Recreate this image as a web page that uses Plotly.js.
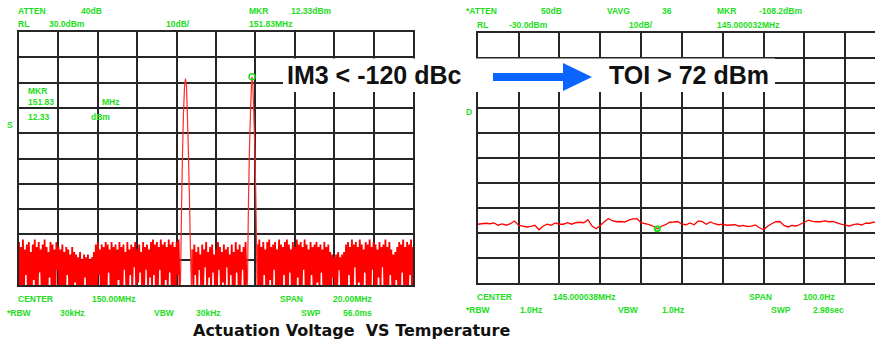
<!DOCTYPE html>
<html>
<head>
<meta charset="utf-8">
<script src="https://cdn.plot.ly/plotly-3.0.1.min.js"></script>
<style>
  html, body { margin: 0; padding: 0; background: #ffffff; }
  #chart { width: 875px; height: 343px; }
</style>
</head>
<body>
<div id="chart"></div>
<script>
// ---- Two-tone test (left screen): 150 MHz centre, 20 MHz span, RL 30 dBm, 10 dB/div ----
const twoToneStep = 0.05;                       // MHz between displayed noise samples
const twoToneSegStarts = [140.00, 148.80, 152.10]; // first frequency of each noise run (MHz)

// noise floor, samples alternate peak / trough (dBm)
const twoToneNoiseA = [
  -53,-72, -55,-70, -52,-72, -56,-66, -54,-72, -53,-71, -57,-72, -54,-68, -52,-72, -55,-72,
  -53,-65, -56,-72, -54,-70, -52,-72, -55,-72, -57,-67, -53,-72, -54,-72, -56,-71, -53,-64,
  -55,-72, -56,-70, -54,-72, -57,-72, -55,-66, -56,-72, -58,-71, -55,-72, -57,-69,
  -58,-72, -59,-72, -57,-70, -60,-72, -58,-67, -59,-72, -58,-72, -60,-71, -59,-72, -57,-70,
  -54,-72, -53,-66, -56,-72, -54,-72, -55,-70, -53,-72, -54,-65, -56,-72, -53,-72, -55,-71, -54,-72, -56,-68, -53,-72,
  -55,-72, -54,-64, -57,-72, -53,-70, -56,-66, -54,-72, -55,-63, -53,-72, -56,-69, -54,-65, -57,-72, -53,-72, -55,-64, -54,-72, -56,-67,
  -53,-72, -52,-66, -54,-72, -53,-70, -55,-64, -52,-72, -54,-72, -53,-68, -55,-72, -52,-65, -54,-72, -53,-71, -55,-72, -53,-66, -52,-72
];
const twoToneNoiseB = [
  -56,-72, -54,-66, -57,-72, -55,-64, -58,-72, -54,-70, -56,-63, -53,-72, -57,-67, -55,-72, -54,-65, -58,-72, -56,-72, -53,-64,
  -55,-72, -57,-69, -54,-72, -56,-63, -55,-72, -58,-66, -54,-72, -57,-72, -53,-65, -56,-72, -54,-70, -57,-64, -55,-72, -53,-72
];
const twoToneNoiseC = [
  -54,-72, -52,-70, -55,-72, -53,-66, -56,-72, -53,-72, -52,-68, -55,-72, -54,-64, -53,-72,
  -56,-72, -52,-70, -54,-72, -55,-66, -53,-72, -52,-72, -54,-65, -56,-72, -53,-71, -55,-72,
  -52,-67, -54,-72, -53,-72, -55,-64, -52,-72, -54,-70, -56,-72, -53,-66, -55,-72, -54,-72,
  -53,-69, -55,-72, -54,-65, -56,-72, -53,-72, -55,-70, -54,-72,
  -57,-72, -58,-67, -59,-72, -58,-72, -57,-64, -59,-72, -58,-70, -57,-72,
  -54,-72, -53,-66, -55,-72, -52,-72, -54,-63, -53,-72, -55,-69, -52,-72, -54,-72, -56,-65, -53,-72, -54,-70,
  -52,-72, -55,-64, -53,-72, -54,-72, -56,-67, -53,-72, -55,-63, -54,-72, -52,-70, -55,-72, -53,-66, -56,-72,
  -58,-72, -57,-68, -55,-72, -53,-72, -54,-65, -52,-72, -55,-70, -53,-72, -54,-66, -52,-72, -55,-72
];

// the two carriers
const toneLowFreq  = [148.15, 148.20, 148.25, 148.30, 148.35, 148.40, 148.45, 148.50, 148.55, 148.60, 148.65, 148.70, 148.75, 148.80];
const toneLowDbm   = [-72, -68, -40, -18, -2, 8, 11.6, 9, -3, -18, -35, -55, -70, -56];
const toneHighFreq = [151.55, 151.60, 151.65, 151.70, 151.75, 151.80, 151.83, 151.87, 151.92, 151.97, 152.02, 152.06, 152.08, 152.10];
const toneHighDbm  = [-72, -68, -36, -16, -2, 9, 12.33, 9, -2, -16, -34, -55, -70, -54];

const twoToneMarkerFreq = 151.83;   // MHz
const twoToneMarkerDbm  = 12.33;    // dBm

// ---- IM3 zoom (right screen): offset from 145 MHz in Hz, RL -30 dBm, 10 dB/div ----
const im3OffsetHz = [];
for (let f = -12; f <= 88; f++) im3OffsetHz.push(f);
const im3Dbm = [
  -106.4, -106.2, -106.0, -106.2, -105.9, -106.8, -106.3, -106.8, -106.2, -105.1,
  -106.8, -107.2, -107.5, -107.3, -106.8, -108.6, -107.2, -106.4, -106.8, -105.9,
  -106.4, -106.4, -105.8, -106.4, -105.8, -105.6, -105.8, -104.6, -107.1, -108.2,
  -106.9, -105.4, -104.2, -105.0, -105.4, -105.3, -105.5, -104.8, -104.3, -104.2,
  -105.8, -106.2, -106.6, -107.2, -108.2, -107.2, -106.6, -105.6, -105.5, -105.3,
  -106.4, -106.6, -105.9, -106.6, -105.1, -105.4, -106.4, -105.5, -106.2, -106.6,
  -106.4, -106.8, -106.7, -106.6, -107.2, -106.9, -107.3, -107.2, -106.7, -107.8,
  -108.6, -107.2, -106.2, -105.4, -105.3, -106.9, -107.5, -106.9, -107.1, -106.4,
  -105.6, -104.8, -105.3, -105.4, -105.4, -105.1, -105.4, -105.3, -105.9, -106.4,
  -106.8, -107.1, -106.6, -106.3, -106.7, -106.0, -106.0, -105.6, -105.8, -106.0,
  -106.2
];
const im3MarkerHz  = 32;      // 145.000032 MHz
const im3MarkerDbm = -108.2;  // dBm

// ---- page geometry helpers (pixel -> paper fraction) ----
const W = 875, H = 343;
const px = x => x / W;
const py = y => 1 - y / H;

const FONT = 'Liberation Sans, Arial, sans-serif';
const GREEN = '#22dd22';
const GRID = '#262626';
const RED = '#ff0000';

// noise runs are drawn heavy, the carrier skirts with a finer pen
function noiseTrace(start, vals) {
  return {
    x: vals.map((v, i) => start + i * twoToneStep), y: vals,
    xaxis: 'x', yaxis: 'y', type: 'scatter', mode: 'lines',
    line: { color: RED, width: 1.8, simplify: false }, hoverinfo: 'skip'
  };
}
function toneTrace(freqs, levels) {
  return {
    x: freqs, y: levels,
    xaxis: 'x', yaxis: 'y', type: 'scatter', mode: 'lines',
    line: { color: '#ff2a2a', width: 1.2, simplify: false }, hoverinfo: 'skip'
  };
}

const traces = [
  noiseTrace(twoToneSegStarts[0], twoToneNoiseA),
  noiseTrace(twoToneSegStarts[1], twoToneNoiseB),
  noiseTrace(twoToneSegStarts[2], twoToneNoiseC),
  toneTrace(toneLowFreq, toneLowDbm),
  toneTrace(toneHighFreq, toneHighDbm),
  {
    x: [twoToneMarkerFreq], y: [twoToneMarkerDbm],
    xaxis: 'x', yaxis: 'y', type: 'scatter', mode: 'markers',
    marker: { symbol: 'circle-open', size: 6, color: GREEN, line: { width: 1.5, color: GREEN } },
    hoverinfo: 'skip'
  },
  {
    x: im3OffsetHz, y: im3Dbm,
    xaxis: 'x2', yaxis: 'y2', type: 'scatter', mode: 'lines',
    line: { color: RED, width: 1.3, simplify: false }, hoverinfo: 'skip'
  },
  {
    x: [im3MarkerHz], y: [im3MarkerDbm],
    xaxis: 'x2', yaxis: 'y2', type: 'scatter', mode: 'markers',
    marker: { symbol: 'circle-open', size: 5, color: GREEN, line: { width: 2, color: GREEN } },
    hoverinfo: 'skip'
  }
];

function screenAxis(extra) {
  return Object.assign({
    showgrid: true, gridcolor: GRID, gridwidth: 2,
    showline: true, linecolor: GRID, linewidth: 2, mirror: true,
    showticklabels: false, ticks: '', zeroline: false, fixedrange: true
  }, extra);
}

// instrument read-outs: [text, x px, y px]
const readouts = [
  ['ATTEN', 17, 11], ['40dB', 80, 11], ['MKR', 248, 11], ['12.33dBm', 290, 11],
  ['RL', 17, 24], ['30.0dBm', 48, 24], ['10dB/', 165, 24], ['151.83MHz', 248, 24],
  ['MKR', 27, 91], ['151.83', 27, 102], ['MHz', 101, 102], ['12.33', 27, 117], ['dBm', 90, 117],
  ['S', 6, 125],
  ['CENTER', 17, 299], ['150.00MHz', 91, 299], ['SPAN', 279, 299], ['20.00MHz', 332, 299],
  ['*RBW', 6, 313], ['30kHz', 59, 313], ['VBW', 153, 313], ['30kHz', 195, 313],
  ['SWP', 300, 313], ['56.0ms', 342, 313],
  ['*ATTEN', 465, 11], ['50dB', 540, 11], ['VAVG', 606, 11], ['36', 661, 11],
  ['MKR', 716, 11], ['-108.2dBm', 758, 11],
  ['RL', 476, 25], ['-30.0dBm', 508, 25], ['10dB/', 628, 25], ['145.000032MHz', 716, 25],
  ['D', 465, 112],
  ['CENTER', 476, 297], ['145.000038MHz', 552, 297], ['SPAN', 748, 297], ['100.0Hz', 802, 297],
  ['*RBW', 465, 310], ['1.0Hz', 519, 310], ['VBW', 617, 310], ['1.0Hz', 661, 310],
  ['SWP', 770, 310], ['2.98sec', 812, 310]
];

const annotations = readouts.map(r => ({
  text: r[0], x: px(r[1]), y: py(r[2]), xref: 'paper', yref: 'paper',
  xanchor: 'left', yanchor: 'middle', showarrow: false, borderpad: 0,
  font: { family: FONT, size: 8.5, color: GREEN, weight: 'bold' }
}));

annotations.push(
  { text: 'IM3 &lt; -120 dBc', x: px(286), y: py(75), xref: 'paper', yref: 'paper',
    xanchor: 'left', yanchor: 'middle', showarrow: false, borderpad: 0,
    font: { family: FONT, size: 25, color: '#111111', weight: 'bold' } },
  { text: 'TOI &gt; 72 dBm', x: px(608), y: py(75), xref: 'paper', yref: 'paper',
    xanchor: 'left', yanchor: 'middle', showarrow: false, borderpad: 0,
    font: { family: FONT, size: 25, color: '#111111', weight: 'bold' } },
  { text: 'Actuation Voltage\u00a0 VS Temperature', x: px(192), y: py(330), xref: 'paper', yref: 'paper',
    xanchor: 'left', yanchor: 'middle', showarrow: false, borderpad: 0,
    font: { family: 'DejaVu Sans, Verdana, sans-serif', size: 16, color: '#111111', weight: 'bold' } }
);

// white caption band and the blue arrow between the two screens
const arrowPath = 'M ' + px(493) + ',' + py(73) +
  ' L ' + px(563) + ',' + py(73) +
  ' L ' + px(563) + ',' + py(63) +
  ' L ' + px(592) + ',' + py(77) +
  ' L ' + px(563) + ',' + py(91) +
  ' L ' + px(563) + ',' + py(81) +
  ' L ' + px(493) + ',' + py(81) + ' Z';

const shapes = [
  { type: 'rect', xref: 'paper', yref: 'paper', layer: 'above',
    x0: px(283), x1: px(775), y0: py(92), y1: py(58.5),
    fillcolor: '#ffffff', line: { width: 0 } },
  { type: 'path', xref: 'paper', yref: 'paper', layer: 'above', path: arrowPath,
    fillcolor: '#0a64ff', line: { width: 0 } }
];

const layout = {
  width: W, height: H,
  margin: { l: 0, r: 0, t: 0, b: 0, pad: 0 },
  paper_bgcolor: '#ffffff', plot_bgcolor: '#ffffff',
  showlegend: false,
  xaxis: screenAxis({ domain: [px(19), px(413)], range: [140, 160], tick0: 140, dtick: 2, anchor: 'y' }),
  yaxis: screenAxis({ domain: [py(285), py(32)], range: [-70, 30], tick0: -70, dtick: 10, anchor: 'x' }),
  xaxis2: screenAxis({ domain: [px(477.7), 1], range: [-12, 85.3], tick0: -12, dtick: 10, anchor: 'y2' }),
  yaxis2: screenAxis({ domain: [py(283.3), py(33)], range: [-130, -30], tick0: -130, dtick: 10, anchor: 'x2', mirror: false }),
  annotations: annotations,
  shapes: shapes
};

Plotly.newPlot('chart', traces, layout, { staticPlot: true, displayModeBar: false });
</script>
</body>
</html>
